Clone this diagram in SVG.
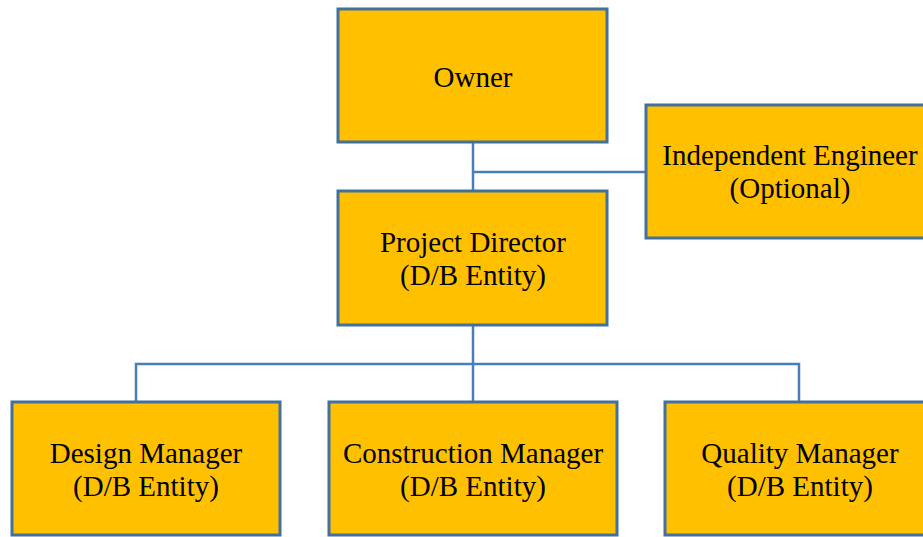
<svg xmlns="http://www.w3.org/2000/svg" width="923" height="537" viewBox="0 0 923 537">
<style>
.box{fill:#FFC000;stroke:#41719C;stroke-width:3}
.lbl{font-family:"Liberation Serif","Times New Roman",serif;font-size:29px;fill:#000;text-anchor:middle}
.con{fill:none;stroke:#4A7EBB;stroke-width:2.5}
</style>
<rect width="923" height="537" fill="#FFFFFF"/>
<g id="connectors">
<path class="con" d="M473 142V190"/>
<path class="con" d="M473 172H646"/>
<path class="con" d="M473 325V402"/>
<path class="con" d="M136 402V364H799V402"/>
</g>
<g id="owner">
<rect class="box" x="338" y="9" width="269" height="133"/>
<text class="lbl" x="473" y="87">Owner</text>
</g>
<g id="independent-engineer">
<rect class="box" x="646" y="105" width="285" height="133"/>
<text class="lbl" x="790" y="165">Independent Engineer</text>
<text class="lbl" x="790" y="198">(Optional)</text>
</g>
<g id="project-director">
<rect class="box" x="338" y="191" width="269" height="134"/>
<text class="lbl" x="473" y="252">Project Director</text>
<text class="lbl" x="473" y="285">(D/B Entity)</text>
</g>
<g id="design-manager">
<rect class="box" x="12" y="402" width="268" height="133"/>
<text class="lbl" x="146" y="463">Design Manager</text>
<text class="lbl" x="146" y="496">(D/B Entity)</text>
</g>
<g id="construction-manager">
<rect class="box" x="329" y="402" width="288" height="133"/>
<text class="lbl" x="473" y="463">Construction Manager</text>
<text class="lbl" x="473" y="496">(D/B Entity)</text>
</g>
<g id="quality-manager">
<rect class="box" x="665" y="402" width="270" height="133"/>
<text class="lbl" x="800" y="463">Quality Manager</text>
<text class="lbl" x="800" y="496">(D/B Entity)</text>
</g>
</svg>
